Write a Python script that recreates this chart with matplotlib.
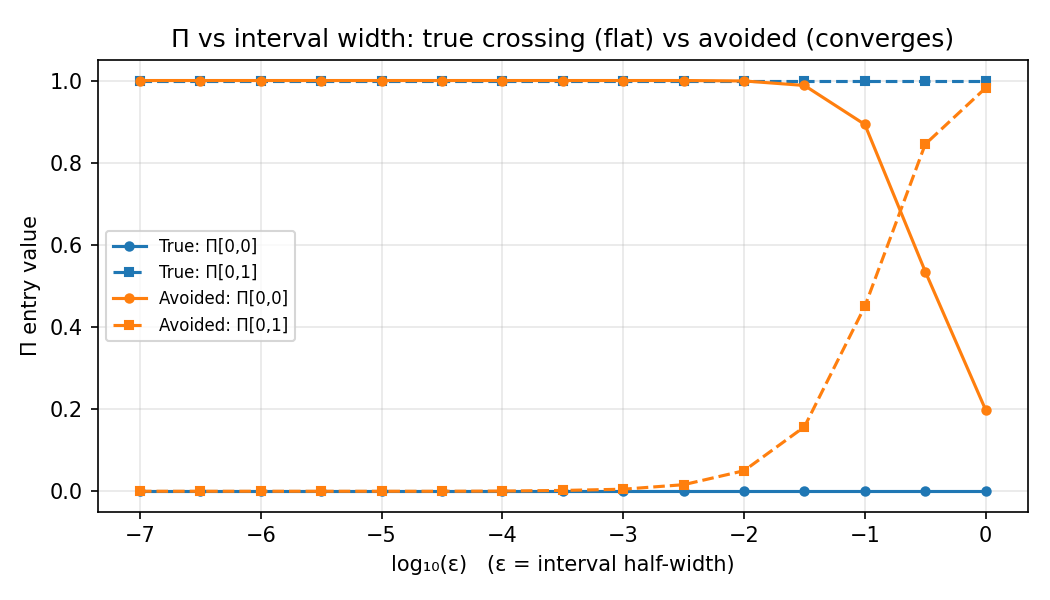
import matplotlib
matplotlib.use("Agg")
import matplotlib.pyplot as plt

log_eps = [-7, -6.5, -6, -5.5, -5, -4.5, -4, -3.5, -3, -2.5, -2, -1.5, -1, -0.5, 0]
true_00 = [0.0] * 15
true_01 = [1.0] * 15
avoid_00 = [1.0, 1.0, 1.0, 1.0, 1.0, 1.0, 1.0, 1.0, 1.0, 1.0, 0.999, 0.988, 0.893, 0.535, 0.198]
avoid_01 = [0.0, 0.0, 0.0, 0.0, 0.0, 0.0, 0.0005, 0.002, 0.005, 0.016, 0.05, 0.157, 0.45, 0.845, 0.982]

fig, ax = plt.subplots(figsize=(7, 4), dpi=150)
ax.plot(log_eps, true_00, '-o', color='C0', ms=4, lw=1.5, label='True: Π[0,0]')
ax.plot(log_eps, true_01, '--s', color='C0', ms=4, lw=1.5, label='True: Π[0,1]')
ax.plot(log_eps, avoid_00, '-o', color='C1', ms=4, lw=1.5, label='Avoided: Π[0,0]')
ax.plot(log_eps, avoid_01, '--s', color='C1', ms=4, lw=1.5, label='Avoided: Π[0,1]')

ax.set_xlabel('log₁₀(ε)   (ε = interval half-width)')
ax.set_ylabel('Π entry value')
ax.set_title('Π vs interval width: true crossing (flat) vs avoided (converges)')
ax.grid(True, alpha=0.3)
ax.legend(loc='center left', fontsize=8)

fig.subplots_adjust(left=0.093, right=0.979, top=0.9, bottom=0.147)
plt.savefig('out.png', dpi=150)
